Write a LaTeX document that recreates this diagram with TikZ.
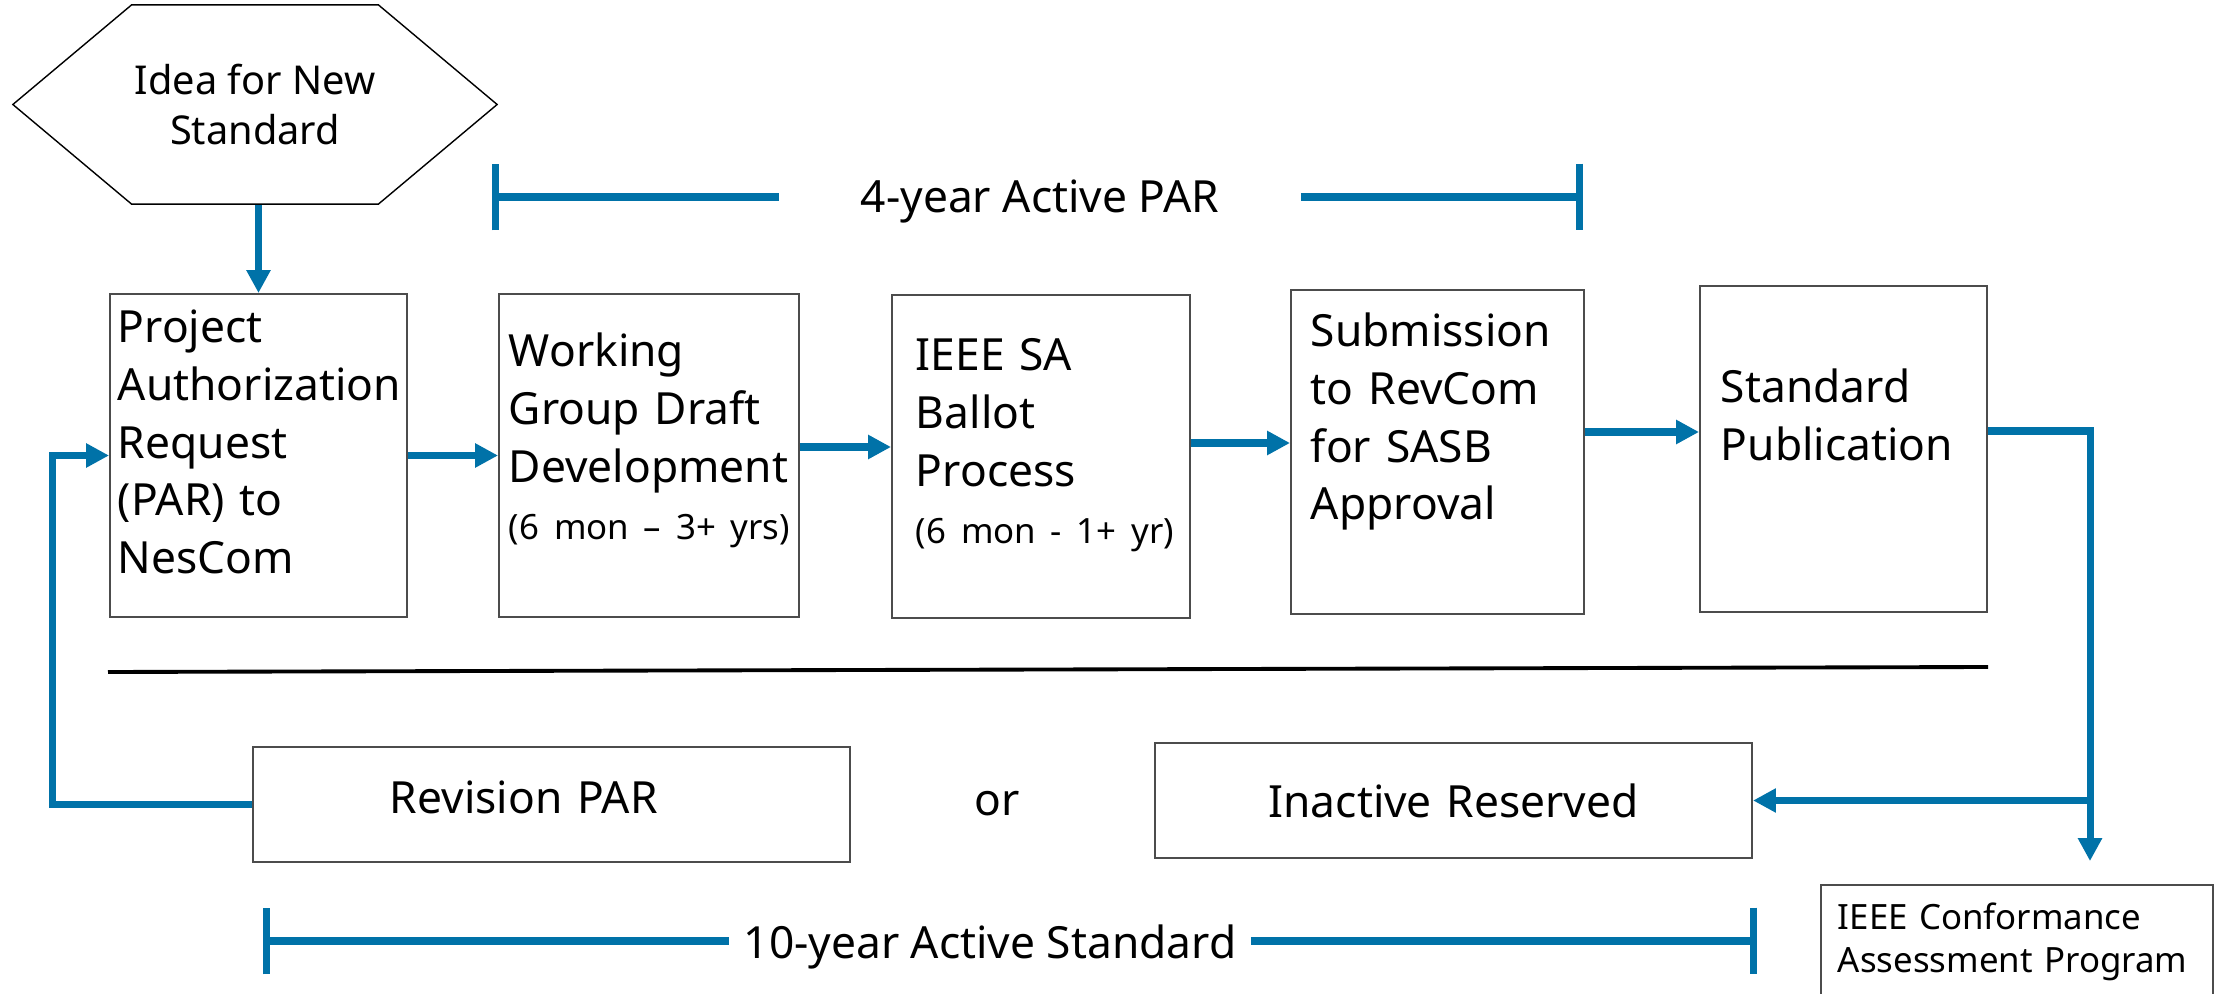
\documentclass[tikz,border=0pt]{standalone}
\usepackage{fontspec}
\setmainfont{Noto Sans}
\usetikzlibrary{arrows.meta,shapes.symbols,positioning}
\definecolor{ieeeblue}{RGB}{0,114,168}
\hyphenation{Authorization Development Publication Submission Conformance Assessment}

\begin{document}
\begin{tikzpicture}[x=0.01cm,y=-0.01cm,
  every node/.style={font=\fontsize{12.6pt}{16.4pt}\selectfont},
  stage/.style={draw=black!70,line width=0.5pt,align=left,inner ysep=0pt,
    font=\fontsize{12.6pt}{16.4pt}\selectfont},
  idea/.style={draw,line width=0.4pt,signal,signal to=west and east,signal pointer angle=80,
    inner xsep=0pt,minimum width=4.84cm,minimum height=1.99cm,align=center,font=\fontsize{11.3pt}{14.5pt}\selectfont},
  flow/.style={draw=ieeeblue,line width=2pt,-{Triangle[length=6.5pt,width=6.5pt]}},
  span/.style={draw=ieeeblue,line width=2pt},
  divider/.style={draw=black,line width=1.1pt}]
\useasboundingbox (0,0) rectangle (2217,994);
\clip (0,0) rectangle (2217,994);
\node[idea] (idea) at (255,104.5) {Idea for New\\Standard};
\node[stage,inner xsep=0.08cm,text width=2.81cm,text height=0.49cm,text depth=2.74cm] (par) at (258.5,455.5) {Project\\Authorization\\Request\\(PAR) to\\NesCom};
\node[stage,inner xsep=0.1cm,text width=2.8cm,text height=0.73cm,text depth=2.5cm] (wg) at (649,455.5) {Working\\Group Draft\\Development\\\mbox{\fontsize{9.9pt}{16.4pt}\selectfont(6 mon – 3+ yrs)}};
\node[stage,inner xsep=0.24cm,text width=2.5cm,text height=0.76cm,text depth=2.47cm] (ballot) at (1041,456.5) {IEEE SA\\Ballot\\Process\\\mbox{\fontsize{9.9pt}{16.4pt}\selectfont(6 mon - 1+ yr)}};
\node[stage,inner xsep=0.2cm,text width=2.53cm,text height=0.57cm,text depth=2.67cm] (sub) at (1437.5,452) {Submission\\to RevCom\\for SASB\\Approval};
\node[stage,inner xsep=0.21cm,text width=2.45cm,text height=1.17cm,text depth=2.09cm] (pub) at (1843.5,449) {Standard\\Publication};
\node[stage,inner xsep=1.37cm,text width=3.23cm,text height=0.66cm,text depth=0.49cm] (revpar) at (551.5,804.5) {Revision PAR};
\node[anchor=base] (or) at (997,815) {or};
\node[stage,align=center,inner xsep=0.1cm,text width=5.77cm,text height=0.74cm,text depth=0.41cm] (inactive) at (1453.5,800.5) {Inactive Reserved};
\node[stage,inner xsep=0.17cm,text width=3.58cm,text height=0.45cm,text depth=1.05cm,font=\fontsize{9.9pt}{12.2pt}\selectfont] (conf) at (2017,960) {IEEE Conformance\\Assessment Program};
\node[anchor=base,minimum width=5.2cm,inner xsep=0pt] (fouryear) at (1040,213) {4-year Active PAR};
\node[anchor=base,minimum width=5.2cm,inner xsep=0pt] (tenyear) at (990,958) {10-year Active Standard};
\coordinate (p4l) at (492,197);
\coordinate (p4r) at (1583,197);
\coordinate (p10l) at (263,941);
\coordinate (p10r) at (1757,941);
\coordinate (drop) at (2090,431);
\draw[span,{Bar[width=19pt]}-] (p4l) -- (fouryear.west |- p4l);
\draw[span,-{Bar[width=19pt]}] (fouryear.east |- p4r) -- (p4r);
\draw[span,{Bar[width=19pt]}-] (p10l) -- (tenyear.west |- p10l);
\draw[span,-{Bar[width=19pt]}] (tenyear.east |- p10r) -- (p10r);
\draw[divider] (108,672) -- (1988,667);
\draw[flow] (idea.south -| par.north) -- (par.north);
\draw[flow] (par.east) -- (wg.west);
\draw[flow] (wg.east |- 0,447) -- (ballot.west |- 0,447);
\draw[flow] (ballot.east |- 0,443) -- (sub.west |- 0,443);
\draw[flow] (sub.east |- 0,432) -- (pub.west |- 0,432);
\draw[flow,shorten >=0.23cm] (pub.east |- drop) -- (drop) -- (drop |- conf.north);
\draw[flow] (drop |- inactive.east) -- (inactive.east);
\draw[flow] (revpar.west) -- ++(-199,0) |- (par.west);
\end{tikzpicture}
\end{document}
